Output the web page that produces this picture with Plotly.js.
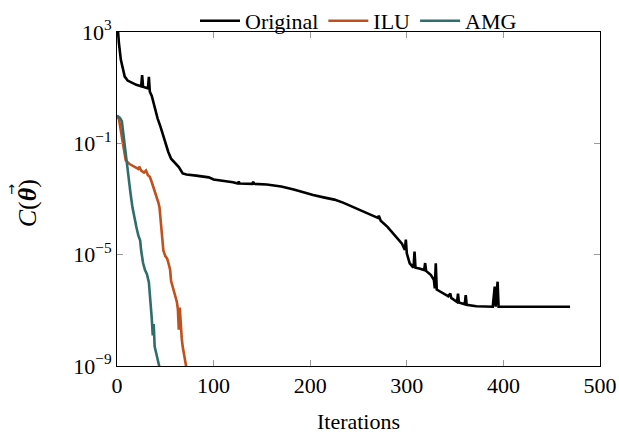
<!DOCTYPE html>
<html>
<head>
<meta charset="utf-8">
<script src="https://cdn.plot.ly/plotly-3.0.1.min.js"></script>
<style>html,body{margin:0;padding:0;background:#fff;}#chart{width:619px;height:438px;}</style>
</head>
<body>
<div id="chart"></div>
<script>
// Original (no preconditioner)
const origIter = [0,1,2,4,6,8,11,15,20,24,25,26,27,30,32,33,34,36,39,42,45,48,51,53,56,60,64,68,72,82,95,100,110,120,125,126,127,140,141,142,155,170,183,195,203,215,225,234,245,255,265,270,271,273,280,289,295,298,299,300,303,306,307,308,309,313,318,319,320,325,328,329,330,331,337,343,345,346,352,353,354,360,361,362,372,389,391,392,394,395,469];
const origCost = [3.2e3,1e3,4e2,100,43,25,18,15,12.6,11.5,11.2,28,10.7,10,9.5,24.5,7.1,5.0,1.8,0.79,0.40,0.18,0.076,0.050,0.028,0.020,0.014,8.3e-3,7.6e-3,6.9e-3,6.0e-3,5.0e-3,4.5e-3,4.0e-3,3.6e-3,4.2e-3,3.6e-3,3.5e-3,4.1e-3,3.5e-3,3.3e-3,2.8e-3,2.2e-3,1.66e-3,1.38e-3,1.12e-3,9.5e-4,7.4e-4,5.0e-4,3.5e-4,2.5e-4,2.1e-4,2.5e-4,1.66e-4,1e-4,4.4e-5,2.5e-5,1.48e-5,3.5e-5,1.12e-5,4.9e-6,3.7e-6,3.5e-6,1.29e-5,3.4e-6,3.2e-6,2.8e-6,5.0e-6,2.6e-6,1.86e-6,1.26e-6,6.2e-7,4.9e-6,5.6e-7,4.1e-7,3.2e-7,4.0e-7,2.8e-7,2.0e-7,4.0e-7,1.9e-7,1.66e-7,3.5e-7,1.58e-7,1.41e-7,1.35e-7,7.1e-7,1.35e-7,1.07e-6,1.35e-7,1.35e-7];

// ILU preconditioner
const iluIter = [0,2,4,5,7,9,13,18,22,23,25,28,30,32,34,36,39,41,43,44,45,46,47,48,50,52,54,55,56,58,60,62,63,64,65,66,67,68,70,72];
const iluCost = [0.85,0.76,0.28,0.16,0.050,0.025,0.018,0.014,0.012,0.0145,0.0105,8.9e-3,0.0105,7.1e-3,6.3e-3,4.0e-3,2.0e-3,1.12e-3,7.1e-4,5.0e-4,2.0e-4,6.3e-5,2.5e-5,1.41e-5,8.9e-6,7.1e-6,4.0e-6,2.8e-6,1.12e-6,6.3e-7,3.5e-7,2.0e-7,1.12e-7,2.0e-8,1.26e-7,2.5e-8,1e-8,5.0e-9,2.0e-9,7.9e-10];

// AMG preconditioner
const amgIter = [0,1,3,5,6,8,9,11,12,14,16,18,20,22,24,25,27,29,31,33,35,36,37,38,39,41,43,45];
const amgCost = [1.0,0.95,0.83,0.63,0.32,0.079,0.040,7.9e-3,4.0e-3,1.58e-3,5.0e-4,2.0e-4,1e-4,5.0e-5,3.2e-5,1.41e-5,5.0e-6,2.8e-6,2.0e-6,1e-6,2.0e-7,5.0e-8,1.26e-8,3.2e-8,5.0e-9,2.2e-9,1.26e-9,6.3e-10];

const yTickVals = [1e3, 1e-1, 1e-5, 1e-9];
const yTickText = ['10<sup>3</sup>', '10<sup>−1</sup>', '10<sup>−5</sup>', '10<sup>−9</sup>'];
const xTickVals = [0, 100, 200, 300, 400, 500];

const FONT = 'Liberation Serif';

const traces = [
  {x: origIter, y: origCost, name: 'Original', mode: 'lines', line: {color: '#000000', width: 2.6}},
  {x: iluIter, y: iluCost, name: 'ILU', mode: 'lines', line: {color: '#c1501d', width: 2.6}},
  {x: amgIter, y: amgCost, name: 'AMG', mode: 'lines', line: {color: '#2f6e6b', width: 2.6}}
];

const layout = {
  width: 619, height: 438,
  margin: {l: 117, r: 19, t: 0, b: 72},
  paper_bgcolor: '#ffffff', plot_bgcolor: '#ffffff',
  font: {family: FONT, size: 22, color: '#000'},
  showlegend: true,
  legend: {orientation: 'h', x: 0.5, xanchor: 'center', y: 1.0, yanchor: 'top',
           font: {family: FONT, size: 22}, itemwidth: 40, tracegroupgap: 0,
           bgcolor: 'rgba(0,0,0,0)'},
  xaxis: {
    range: [0, 500], tickvals: xTickVals, ticks: 'inside', ticklen: 6, tickcolor: '#9a9a9a',
    showline: true, linecolor: '#000', linewidth: 1, mirror: 'ticks', showgrid: false, zeroline: false,
    tickfont: {family: FONT, size: 22},
    title: {text: 'Iterations', font: {family: FONT, size: 22}, standoff: 16}
  },
  yaxis: {
    type: 'log', range: [-9, 3], tickvals: yTickVals, ticktext: yTickText, domain: [0, 0.9126],
    ticks: 'inside', ticklen: 6, tickcolor: '#9a9a9a',
    showline: true, linecolor: '#000', linewidth: 1, mirror: 'ticks', showgrid: false, zeroline: false,
    tickfont: {family: FONT, size: 22}
  },
  annotations: [
    {text: '<i>C</i>(<b><i>θ</i></b>)', xref: 'paper', yref: 'paper', x: -0.186, y: 0.445,
     xanchor: 'center', yanchor: 'middle', textangle: -90, showarrow: false,
     font: {family: FONT, size: 26}},
    {text: '→', xref: 'paper', yref: 'paper', x: -0.22, y: 0.483,
     xanchor: 'center', yanchor: 'middle', textangle: -90, showarrow: false,
     font: {family: 'DejaVu Sans', size: 13}}
  ]
};

Plotly.newPlot('chart', traces, layout, {staticPlot: true, displayModeBar: false});
</script>
</body>
</html>
